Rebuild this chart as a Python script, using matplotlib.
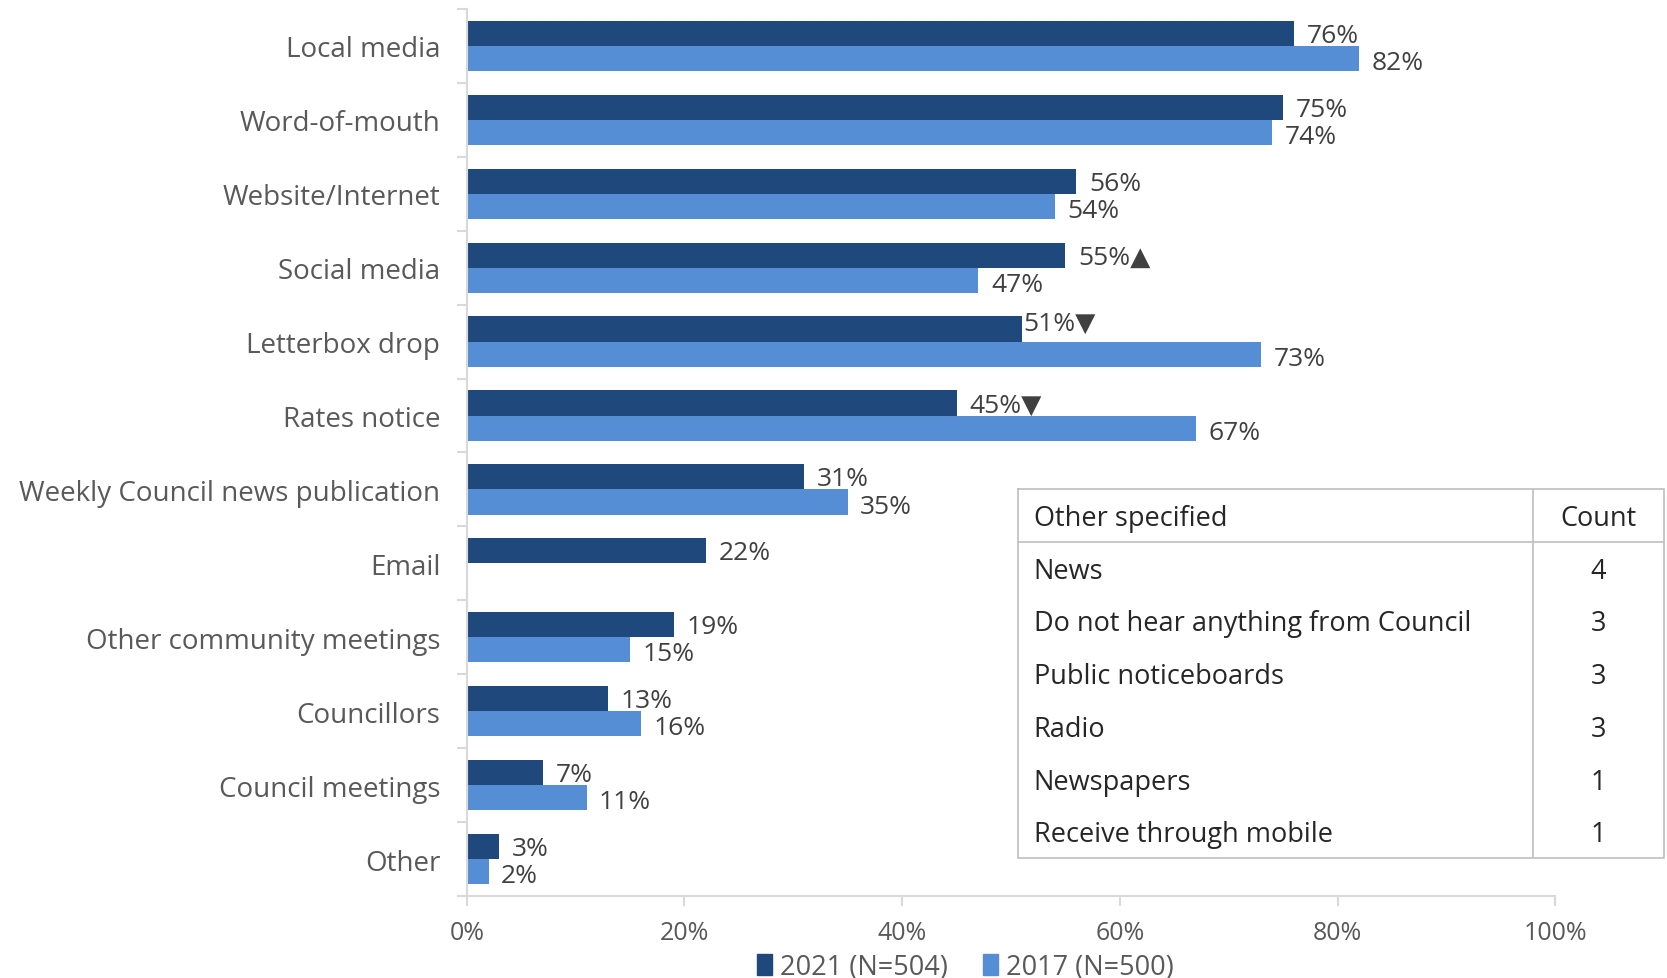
import matplotlib.pyplot as plt
import numpy as np
from matplotlib.patches import Patch

plt.rcParams["font.family"] = ["Open Sans", "DejaVu Sans"]

categories = [
    "Local media", "Word-of-mouth", "Website/Internet", "Social media",
    "Letterbox drop", "Rates notice", "Weekly Council news publication",
    "Email", "Other community meetings", "Councillors", "Council meetings",
    "Other",
]
vals_2021 = [76, 75, 56, 55, 51, 45, 31, 22, 19, 13, 7, 3]
vals_2017 = [82, 74, 54, 47, 73, 67, 35, np.nan, 15, 16, 11, 2]
# significance arrows shown after the 2021 value
sig_2021 = ["", "", "", "▲", "▼", "▼", "", "", "", "", "", ""]

series_names = ["2021 (N=504)", "2017 (N=500)"]

other_items = ["News", "Do not hear anything from Council", "Public noticeboards",
               "Radio", "Newspapers", "Receive through mobile"]
other_counts = [4, 3, 3, 3, 1, 1]

DARK = "#1F497D"
LIGHT = "#558ED5"
TEXT = "#595959"
LABEL = "#404040"
GRID = "#D9D9D9"

fig = plt.figure(figsize=(16.67, 9.79), dpi=100)
ax = fig.add_axes([0.280, 0.0838, 0.653, 0.906])

y = np.arange(len(categories))
h = 0.34
ax.barh(y - h / 2, vals_2021, height=h, color=DARK)
ax.barh(y + h / 2, vals_2017, height=h, color=LIGHT)

# the Letterbox drop label is lifted so it clears the longer 2017 bar below
nudge = {"Letterbox drop": (1, 4)}
for cat, yi, v, s in zip(categories, y, vals_2021, sig_2021):
    dx, dy = nudge.get(cat, (9, -1.5))
    ax.annotate(f"{v:.0f}%{s}", (v, yi - h / 2), xytext=(dx, dy),
                textcoords="offset points", va="center", ha="left",
                fontsize=19, color=LABEL)
for yi, v in zip(y, vals_2017):
    if np.isnan(v):
        continue
    ax.annotate(f"{v:.0f}%", (v, yi + h / 2), xytext=(9, -3),
                textcoords="offset points", va="center", ha="left",
                fontsize=19, color=LABEL)

ax.set_xlim(0, 100)
ax.set_ylim(len(categories) - 0.5, -0.5)
ax.set_xticks(np.arange(0, 101, 20))
ax.set_xticklabels([f"{t}%" for t in range(0, 101, 20)])
ax.set_yticks(y)
ax.set_yticklabels(categories)
ax.set_yticks(np.arange(-0.5, len(categories), 1), minor=True)
ax.tick_params(axis="y", which="major", length=0, pad=19, labelsize=20,
               labelcolor=TEXT)
ax.tick_params(axis="y", which="minor", length=7, color=GRID, width=1.5)
ax.tick_params(axis="x", length=7, color=GRID, width=1.5, labelsize=18,
               labelcolor=TEXT, pad=10)
for side in ["top", "right"]:
    ax.spines[side].set_visible(False)
for side in ["left", "bottom"]:
    ax.spines[side].set_color(GRID)
    ax.spines[side].set_linewidth(1.5)

handles = [Patch(color=DARK), Patch(color=LIGHT)]
fig.legend(handles, series_names, loc="lower center", ncol=2,
           bbox_to_anchor=(0.579, -0.028), frameon=False, fontsize=19.5,
           handlelength=0.55, handleheight=0.85, handletextpad=0.3,
           columnspacing=1.3, labelcolor=TEXT)

# inset table of "other" responses
tab = fig.add_axes([0.6107, 0.1226, 0.3873, 0.3769])
n_rows = len(other_items) + 1
tab.set_xlim(0, 1)
tab.set_ylim(n_rows, 0)
tab.axis("off")
col_split = 0.797
tab.plot([0, 1, 1, 0, 0], [0, 0, n_rows, n_rows, 0], color="#BFBFBF", lw=1.2,
         clip_on=False)
tab.plot([col_split, col_split], [0, n_rows], color="#BFBFBF", lw=1.2)
tab.plot([0, 1], [1, 1], color="#BFBFBF", lw=1.2)
rows = [("Other specified", "Count")] + list(zip(other_items, other_counts))
for r, (name, cnt) in enumerate(rows):
    tab.text(0.024, r + 0.55, name, va="center", ha="left", fontsize=19.5,
             color="#262626")
    tab.text((col_split + 1) / 2, r + 0.55, str(cnt), va="center",
             ha="center", fontsize=19.5, color="#262626")

fig.savefig("out.png", dpi=100)
